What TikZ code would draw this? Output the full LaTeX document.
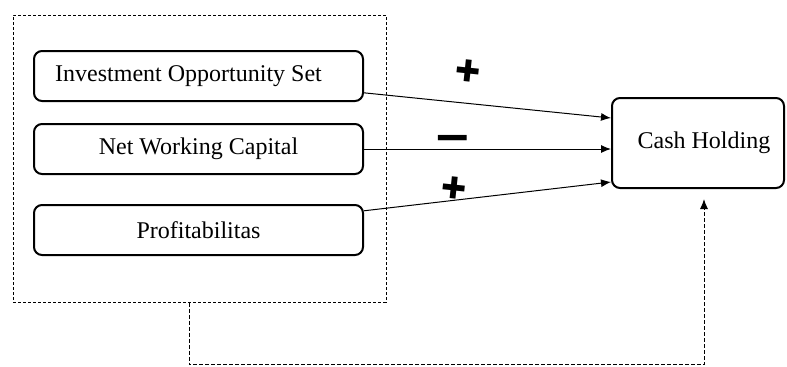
\documentclass[tikz,border=0pt]{standalone}
\usepackage{fontspec}
\setmainfont{Liberation Serif}
\newfontfamily\signfont{DejaVu Sans}
\usetikzlibrary{arrows.meta,calc,positioning}
\tikzset{
    node distance =1 cm and 1 cm,
    var/.style ={rectangle, rounded corners=4pt, draw, line width=1pt, minimum width=164.5pt, minimum height=25pt, font=\fontsize{12}{14}\selectfont},
    group/.style = {draw, line width=0.5pt, dash pattern=on 1.5pt off 1pt, minimum width=186.5pt, minimum height=143.5pt, inner sep=0pt},
    link/.style={-{Latex[length=5pt,width=4pt]}, line width=0.5pt},
    back/.style={link, dash pattern=on 2pt off 1pt},
    sign/.style = {inner sep=0pt, anchor=center, font=\signfont\fontsize{15}{15}\selectfont, rotate=-6},
    minus/.style = {inner sep=0pt, anchor=center, font=\signfont\bfseries\fontsize{23}{23}\selectfont}
}
\begin{document}
\begin{tikzpicture}[x=0.5pt,y=-0.5pt]
    \useasboundingbox (0,0) rectangle (787,366);
    \node[group] (grp) at (199.5,158.5) {};
    \node[var] (1) at (198.5,76) {Investment Opportunity Set\kern10pt};
    \node[var] (2) [below =10.5pt of 1] {Net Working Capital};
    \node[var] (3) [below =14.5pt of 2] {Profitabilitas};
    \node[var, minimum width=86pt, minimum height=45pt] (cash) at (698,143) {\kern6pt Cash Holding};

    \path[link] (1) edge node[sign,pos=0.41,yshift=16pt] {✚} ($(cash.west)+(0,-25)$);
    \path[link] (2) edge node[minus,pos=0.36,yshift=2.5pt] {−} (2 -| cash.west);
    \path[link] (3) edge node[sign,pos=0.36,yshift=6.5pt] {✚} ($(cash.west)+(0,39)$);
    \draw[back] ([xshift=-5.25pt]grp.south) -- ++(0,62) -| ([xshift=3pt,yshift=-5pt]cash.south);
  \end{tikzpicture}
\end{document}
